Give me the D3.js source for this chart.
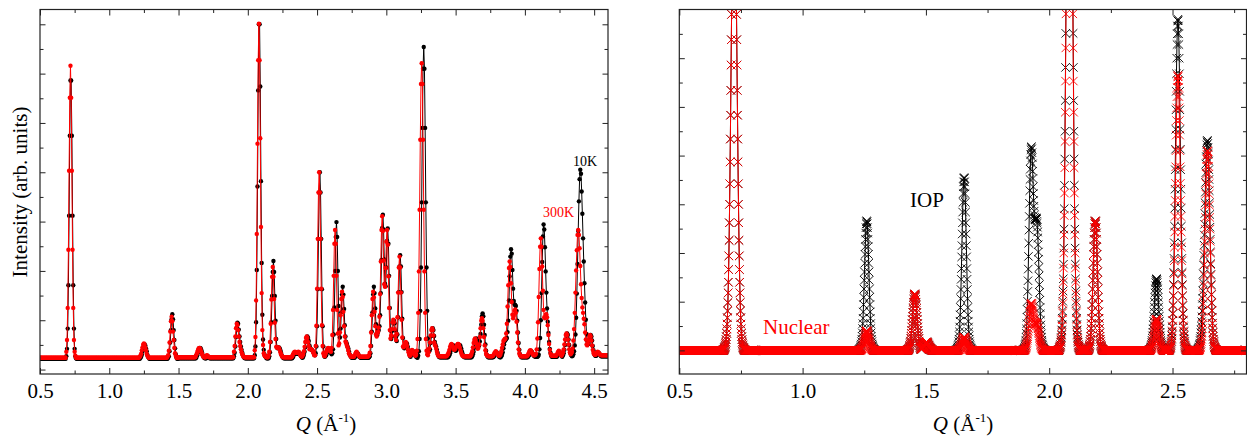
<!DOCTYPE html>
<html>
<head>
<meta charset="utf-8">
<script src="https://cdn.jsdelivr.net/npm/d3@7"></script>
<style>
  body { margin: 0; background: #fff; }
  svg text { font-family: "Liberation Serif", "Times New Roman", serif; fill: #000; }
</style>
</head>
<body>
<svg id="chart" width="1247" height="440"></svg>
<script>
// ---------- Q grids (Å^-1) ----------
const scanStart = 0.5;
const rowSpan = 0.1;          // each data row covers 0.1 Å^-1
const measuredStep = 0.005;   // 20 points per row
const calcStep = 0.001;       // 100 points per row

// ---------- Measured patterns (arb. units x100) ----------
const counts10K = [
  [22,22,22,22,22,22,22,22,22,22, 22,22,22,22,22,22,22,22,22,22],
  [22,22,22,22,22,22,22,22,22,22, 22,22,22,22,22,22,22,22,27,42],
  [83,171,312,474,586,586,474,312,171,83, 42,27,23,22,22,22,22,22,22,22],
  [22,22,22,22,22,22,22,22,22,22, 22,22,22,22,22,22,22,22,22,22],
  [22,22,22,22,22,22,22,22,22,22, 22,22,22,22,22,22,22,22,22,22],
  [22,22,22,22,22,22,22,22,22,22, 22,22,22,22,22,22,22,22,22,22],
  [22,22,22,22,22,22,22,22,22,22, 22,22,22,22,22,22,22,22,22,22],
  [22,22,22,22,22,24,26,30,37,43, 49,51,49,43,37,30,26,24,22,22],
  [22,22,22,22,22,22,22,22,22,22, 22,22,22,22,22,22,22,22,22,22],
  [22,22,22,22,22,24,27,37,55,80, 102,112,102,80,60,43,31,25,22,22],
  [23,23,23,23,23,23,23,23,23,23, 23,23,23,23,23,23,23,23,23,23],
  [23,23,23,23,23,23,26,29,34,39, 43,44,43,39,34,29,26,24,23,23],
  [23,26,27,26,24,23,23,23,23,23, 23,23,23,23,23,23,23,23,23,23],
  [23,23,23,23,23,23,23,23,23,23, 23,23,23,23,23,23,23,23,23,23],
  [27,34,47,66,85,95,93,81,67,56, 47,40,34,29,26,24,23,23,23,23],
  [23,23,23,23,23,23,23,23,23,23, 29,47,96,202,371,566,700,700,574,382],
  [216,111,61,40,31,27,25,23,23,23, 23,27,35,56,96,149,198,220,198,149],
  [99,62,46,43,44,45,43,39,34,29, 26,24,23,23,23,23,23,23,23,23],
  [23,23,23,23,23,25,28,31,33,34, 33,32,32,33,34,33,30,27,25,24],
  [26,30,36,45,56,64,67,64,58,49, 44,41,40,39,37,34,30,29,33,47],
  [88,163,265,359,400,359,265,163,88,47, 32,26,27,29,33,37,41,42,41,37],
  [34,31,33,41,71,126,200,269,299,269, 200,129,80,65,83,116,152,168,152,123],
  [90,67,56,52,47,43,37,31,28,26, 24,24,24,24,24,26,29,32,34,32],
  [29,26,25,24,24,24,24,24,24,24, 24,24,24,24,24,25,27,33,48,77],
  [116,152,168,155,124,92,73,70,76,80, 88,110,155,222,287,314,284,223,174,169],
  [207,261,286,255,190,125,79,62,67,79, 94,99,94,79,66,58,71,106,157,209],
  [232,209,157,103,64,45,43,46,52,54, 52,46,39,33,28,26,30,35,38,36],
  [33,30,28,26,25,24,28,37,62,119, 207,339,490,610,654,610,490,339,207,119],
  [63,41,37,41,54,68,80,84,80,68, 56,50,46,40,34,29,26,25,25,25],
  [25,25,25,25,25,25,25,25,25,25, 27,29,33,38,44,48,50,48,44,40],
  [38,39,42,45,48,50,50,48,43,37, 32,28,26,25,25,25,25,25,25,25],
  [25,25,25,25,27,31,36,44,53,60, 63,60,55,49,49,57,72,91,108,114],
  [108,91,70,51,38,30,27,25,25,25, 25,25,25,25,25,26,28,31,33,35],
  [33,31,28,26,25,25,27,30,35,43, 51,58,60,62,64,76,99,140,189,229],
  [244,235,202,164,139,132,131,129,119,99, 75,54,40,31,27,25,25,25,25,25],
  [25,25,25,25,25,27,29,33,36,37, 36,33,30,28,27,26,26,26,26,27],
  [30,41,64,100,155,218,270,294,284,248, 199,156,124,97,74,56,42,34,28,26],
  [26,26,26,26,26,26,26,28,31,34, 36,34,31,28,26,29,33,40,50,61],
  [70,73,70,61,50,40,33,29,27,28, 31,37,49,71,105,154,214,281,341,386],
  [405,397,361,316,266,219,175,136,101,72, 58,52,52,59,67,70,67,59,48,39],
  [33,29,28,28,30,32,34,33,31,29, 27,27,27,27,27,27,27,27,27,27],
  [27]
];

const counts300K = [
  [24,24,24,24,24,24,24,24,24,24, 24,24,24,24,24,24,24,24,24,24],
  [24,24,24,24,24,24,24,24,24,24, 24,24,24,24,24,24,24,24,36,60],
  [125,243,403,551,616,551,403,243,125,60, 36,28,24,24,24,24,24,24,24,24],
  [24,24,24,24,24,24,24,24,24,24, 24,24,24,24,24,24,24,24,24,24],
  [24,24,24,24,24,24,24,24,24,24, 24,24,24,24,24,24,24,24,24,24],
  [24,24,24,24,24,24,24,24,24,24, 24,24,24,24,24,24,24,24,24,24],
  [24,24,24,24,24,24,24,24,24,24, 24,24,24,24,24,24,24,24,24,24],
  [24,24,24,24,26,28,32,39,45,51, 53,51,45,39,32,28,26,24,24,24],
  [24,24,24,24,24,24,24,24,24,24, 24,24,24,24,24,24,24,24,24,24],
  [24,24,24,24,26,29,38,55,77,98, 107,98,77,60,44,33,28,24,24,24],
  [25,25,25,25,25,25,25,25,25,25, 25,25,25,25,25,25,25,25,25,25],
  [25,25,25,25,25,28,31,35,39,43, 44,43,39,35,31,28,26,25,25,25],
  [28,29,28,26,25,25,25,25,25,25, 25,25,25,25,25,25,25,25,25,25],
  [25,25,25,25,25,25,25,25,25,25, 25,25,25,25,25,25,25,25,25,25],
  [36,48,67,84,93,90,80,67,56,48, 41,35,31,28,26,25,25,25,25,25],
  [25,25,25,25,25,25,25,25,25,25, 39,66,140,275,458,627,701,627,469,289],
  [155,80,50,33,29,27,26,25,25,25, 29,36,56,93,142,188,208,188,143,95],
  [62,46,44,45,45,44,40,35,31,28, 26,25,25,25,25,25,25,25,25,25],
  [25,25,25,25,27,30,33,35,36,35, 34,34,35,36,35,32,29,27,26,28],
  [31,37,46,56,64,67,64,56,48,41, 42,42,41,39,36,33,29,29,48,89],
  [164,265,359,400,359,265,164,90,48,33, 28,27,31,35,39,43,44,43,39,37],
  [36,44,70,121,190,255,283,255,190,121, 73,49,53,75,110,143,158,147,117,88],
  [67,57,54,49,45,39,33,30,28,26, 26,26,26,26,28,31,34,36,34,31],
  [29,27,26,26,26,26,26,26,26,26, 26,26,26,26,27,29,34,48,75,110],
  [143,158,146,117,88,71,67,73,77,85, 107,153,219,283,311,281,221,173,168,206],
  [259,283,253,189,125,80,63,69,82,96, 101,96,82,68,60,72,106,156,207,229],
  [207,156,101,65,47,45,49,54,56,54, 48,41,35,30,28,30,36,40,38,35],
  [32,30,28,30,38,62,115,199,324,466, 579,621,579,466,324,199,115,62,38,31],
  [29,35,43,55,69,80,84,80,69,55, 50,48,42,36,31,28,27,27,27,27],
  [27,27,27,27,27,27,27,27,29,31, 35,40,46,50,52,50,46,42,40,41],
  [44,47,50,52,52,50,45,39,34,30, 28,27,27,27,27,27,27,27,27,27],
  [27,27,29,32,37,45,54,60,63,60, 54,47,42,44,51,66,84,99,104,99],
  [84,66,49,39,32,29,28,27,27,27, 27,27,27,27,28,30,33,35,37,35],
  [33,31,29,28,29,32,37,44,51,58, 60,62,63,73,93,128,171,206,219,208],
  [175,137,111,104,109,119,122,115,97,75, 55,41,33,29,27,27,27,27,27,27],
  [27,27,27,27,29,31,35,38,39,38, 35,32,30,29,29,30,32,41,63,96],
  [147,204,249,266,249,209,160,121,106,104, 111,112,106,90,70,52,40,32,29,28],
  [28,28,28,28,28,28,30,33,36,38, 36,33,30,28,31,35,41,51,61,70],
  [73,70,61,51,41,35,31,33,36,43, 59,82,115,156,201,242,273,283,273,246],
  [210,173,145,126,115,103,92,75,61,51, 49,53,59,67,70,67,59,49,40,34],
  [31,30,30,32,34,36,35,33,31,30, 29,29,29,29,29,29,29,29,29,29],
  [29]
];

// ---------- Calculated patterns (arb. units x100) ----------
const calcIOP = [
  [0,0,0,0,0,0,0,0,0,0, 0,0,0,0,0,0,0,0,0,0, 0,0,0,0,0,0,0,0,0,0, 0,0,0,0,0,0,0,0,0,0, 0,0,0,0,0,0,0,0,0,0, 0,0,0,0,0,0,0,0,0,0, 0,0,0,0,0,0,0,0,0,0, 0,0,0,0,0,0,0,0,0,0, 0,0,0,0,0,0,0,0,0,0, 0,0,0,0,0,0,0,0,0,0],
  [0,0,0,0,0,0,0,0,0,0, 0,0,0,0,0,0,0,0,0,0, 0,0,0,0,0,0,0,0,0,0, 0,0,0,0,0,0,0,0,0,0, 0,0,0,0,0,0,0,0,0,0, 0,0,0,0,0,0,0,0,0,0, 0,0,0,0,0,0,0,0,0,0, 0,0,0,0,0,0,0,0,0,1, 1,2,3,4,5,6,8,11,14,17, 22,28,35,44,54,67,81,98,118,140],
  [166,194,226,262,300,342,387,434,483,534, 586,638,690,740,788,834,875,911,942,967, 985,996,1000,996,985,967,942,911,875,834, 788,740,690,638,586,534,483,434,387,342, 300,262,226,194,166,140,118,98,81,67, 54,44,35,28,22,17,14,11,8,6, 5,4,3,2,1,1,0,0,0,0, 0,0,0,0,0,0,0,0,0,0, 0,0,0,0,0,0,0,0,0,0, 0,0,0,0,0,0,0,0,0,0],
  [0,0,0,0,0,0,0,0,0,0, 0,0,0,0,0,0,0,0,0,0, 0,0,0,0,0,0,0,0,0,0, 0,0,0,0,0,0,0,0,0,0, 0,0,0,0,0,0,0,0,0,0, 0,0,0,0,0,0,0,0,0,0, 0,0,0,0,0,0,0,0,0,0, 0,0,0,0,0,0,0,0,0,0, 0,0,0,0,0,0,0,0,0,0, 0,0,0,0,0,0,0,0,0,0],
  [0,0,0,0,0,0,0,0,0,0, 0,0,0,0,0,0,0,0,0,0, 0,0,0,0,0,0,0,0,0,0, 0,0,0,0,0,0,0,0,0,0, 0,0,0,0,0,0,0,0,0,0, 0,0,0,0,0,0,0,0,0,0, 0,0,0,0,0,0,0,0,0,0, 0,0,0,0,0,0,0,0,0,0, 0,0,0,0,0,0,0,0,0,0, 0,0,0,0,0,0,0,0,0,0],
  [0,0,0,0,0,0,0,0,0,0, 0,0,0,0,0,0,0,0,0,0, 0,0,0,0,0,0,0,0,0,0, 0,0,0,0,0,0,0,0,0,0, 0,0,0,0,0,0,0,0,0,0, 0,0,0,0,0,0,0,0,0,0, 0,0,0,0,0,0,0,0,0,0, 0,0,0,0,0,0,0,0,0,0, 0,0,0,0,0,0,0,0,0,0, 0,0,0,0,0,0,0,0,0,0],
  [0,0,0,0,0,0,0,0,0,0, 0,0,0,0,0,0,0,0,0,0, 0,0,0,0,0,0,0,0,0,0, 0,0,0,0,0,0,0,0,0,0, 0,0,0,0,0,0,0,0,0,0, 0,0,0,0,0,0,0,0,0,0, 0,0,0,0,0,0,0,0,0,0, 0,0,0,0,0,0,0,0,0,0, 0,0,0,0,0,0,0,0,0,0, 0,0,0,0,0,0,0,0,0,0],
  [0,0,0,0,0,0,0,0,0,0, 0,0,0,0,0,0,0,0,0,0, 0,0,0,0,0,0,0,0,0,1, 1,2,2,3,4,6,8,10,13,18, 23,29,36,45,55,66,79,94,109,126, 144,161,179,197,213,228,241,252,260,264, 266,264,260,252,241,228,213,197,179,161, 144,126,109,94,79,66,55,45,36,29, 23,18,13,10,8,6,4,3,2,2, 1,1,0,0,0,0,0,0,0,0],
  [0,0,0,0,0,0,0,0,0,0, 0,0,0,0,0,0,0,0,0,0, 0,0,0,0,0,0,0,0,0,0, 0,0,0,0,0,0,0,0,0,0, 0,0,0,0,0,0,0,0,0,0, 0,0,0,0,0,0,0,0,0,0, 0,0,0,0,0,0,0,0,0,0, 0,0,0,0,0,0,0,0,0,0, 0,0,0,0,0,0,0,0,0,0, 0,0,0,0,0,0,0,0,0,0],
  [0,0,0,0,0,0,0,0,0,0, 0,0,0,0,0,0,0,0,0,0, 0,0,0,0,0,0,1,1,1,2, 2,3,4,6,8,10,13,16,19,24, 29,35,41,48,55,63,70,78,86,93, 99,105,110,113,115,116,115,113,110,105, 99,93,86,78,70,63,55,48,41,35, 29,24,19,16,13,10,8,6,4,3, 3,3,2,3,3,3,4,4,5,6, 7,8,9,10,11,13,14,15,15,16],
  [17,17,17,17,17,16,15,15,14,13, 11,10,9,8,7,6,5,4,4,3, 2,2,1,1,1,0,0,0,0,0, 0,0,0,0,0,0,0,0,0,0, 0,0,0,0,0,0,0,0,0,0, 0,0,0,0,0,0,0,0,0,0, 0,0,0,0,0,0,0,0,0,0, 0,0,0,0,0,0,0,0,0,0, 0,0,0,0,0,0,0,0,0,0, 0,0,0,0,0,0,0,0,0,0],
  [0,0,0,0,0,0,0,0,0,0, 0,0,0,0,0,0,0,0,0,0, 0,0,0,0,1,1,2,3,4,5, 7,10,13,18,23,30,38,48,60,73, 88,106,125,146,168,192,215,239,262,284, 304,322,336,346,353,355,353,346,336,322, 304,284,262,239,215,192,168,146,125,106, 88,73,60,48,38,30,23,18,13,10, 7,5,4,3,2,1,1,0,0,0, 0,0,0,0,0,0,0,0,0,0],
  [0,0,0,0,0,0,0,0,0,0, 0,0,0,0,0,0,0,0,0,0, 0,0,0,0,0,0,0,0,0,0, 0,0,0,0,0,0,0,0,0,0, 0,0,0,0,0,0,0,0,0,0, 0,0,0,0,0,0,0,0,0,0, 0,0,0,0,0,0,0,0,0,0, 0,0,0,0,0,0,0,0,0,0, 0,0,0,0,0,0,0,0,0,0, 0,0,0,0,0,0,0,0,0,0],
  [0,0,0,0,0,0,0,0,0,0, 0,0,0,0,0,0,0,0,0,0, 0,0,0,0,0,0,0,0,0,0, 0,0,0,0,0,0,0,0,0,0, 0,0,0,0,0,0,0,0,0,0, 0,0,0,0,0,0,0,0,0,0, 0,0,0,0,0,0,0,0,0,0, 0,0,0,0,0,0,0,0,0,0, 0,0,0,0,0,0,0,0,0,0, 0,0,0,0,0,1,1,2,2,3],
  [4,6,9,12,15,20,27,35,44,55, 68,84,101,121,143,167,193,220,247,275, 302,328,351,372,389,402,412,417,418,414, 406,396,383,368,353,336,322,308,296,286, 278,273,270,269,268,269,271,272,271,269, 265,261,253,243,231,217,202,187,170,153, 135,119,103,88,75,62,52,42,34,27, 21,17,13,10,7,5,4,3,2,2, 1,1,0,0,0,0,0,0,0,0, 0,0,0,0,0,0,0,0,0,0],
  [0,0,0,0,0,0,0,0,0,0, 0,0,0,0,0,0,0,0,0,0, 0,0,0,0,0,0,0,0,0,0, 0,0,0,0,0,0,0,0,1,2, 2,3,5,6,8,9,12,17,21,26, 33,42,53,66,81,101,122,147,177,210, 249,291,339,393,450,513,581,651,725,801, 879,957,1035,1110,1182,1251,1313,1367,1413,1451, 1478,1494,1500,1494,1478,1451,1413,1367,1313,1251, 1182,1110,1035,957,879,801,725,651,581,513],
  [450,393,339,291,249,210,177,147,122,101, 81,66,53,42,33,26,21,17,12,9, 8,6,5,3,2,2,1,0,0,0, 0,0,0,0,0,0,0,0,0,0, 0,0,0,0,0,0,0,0,0,0, 0,0,0,0,0,0,1,1,2,2, 3,4,6,8,10,13,18,23,29,36, 45,55,66,79,94,109,126,144,161,179, 197,213,228,241,252,260,264,266,264,260, 252,241,228,213,197,179,161,144,126,109],
  [94,79,66,55,45,36,29,23,18,13, 10,8,6,4,3,2,2,1,1,0, 0,0,0,0,0,0,0,0,0,0, 0,0,0,0,0,0,0,0,0,0, 0,0,0,0,0,0,0,0,0,0, 0,0,0,0,0,0,0,0,0,0, 0,0,0,0,0,0,0,0,0,0, 0,0,0,0,0,0,0,0,0,0, 0,0,0,0,0,0,0,0,0,0, 0,0,0,0,0,0,0,0,0,0],
  [0,0,0,0,0,0,0,0,0,0, 0,0,0,0,0,0,0,0,0,0, 0,0,0,0,0,0,0,0,0,0, 0,0,0,0,0,0,0,0,0,0, 0,0,0,0,0,0,0,0,0,0, 0,0,0,0,0,0,0,0,0,0, 0,0,0,0,0,0,0,0,0,0, 0,0,0,0,0,0,0,0,0,0, 0,0,0,0,0,0,0,0,0,0, 0,0,0,0,0,0,0,0,0,0],
  [0,0,0,0,0,0,1,1,2,2, 3,4,6,7,10,12,16,20,25,30, 37,44,52,60,70,79,89,99,109,118, 126,133,139,143,146,147,146,143,139,133, 126,118,109,99,89,79,70,60,52,44, 37,30,25,20,16,12,10,7,6,4, 3,2,2,1,1,0,0,0,0,0, 0,0,0,0,0,0,0,0,0,0, 0,0,0,0,0,0,1,1,2,3, 4,5,7,10,14,18,23,30,38,48],
  [61,75,92,112,135,160,189,221,255,292, 331,371,413,454,494,532,568,600,628,650, 666,677,680,677,666,650,628,600,568,532, 494,454,413,371,331,292,255,221,189,160, 135,112,92,75,61,48,38,30,23,18, 14,10,7,5,4,3,2,1,1,0, 0,0,0,0,0,0,0,0,0,0, 0,0,0,0,0,0,0,0,0,0, 0,0,0,0,0,0,0,0,0,0, 0,0,0,0,0,0,0,0,0,0],
  [0,1,1,2,2,3,4,6,7,10, 12,15,20,24,29,36,42,50,59,69, 81,94,107,122,139,157,175,195,216,237, 259,281,303,325,345,365,383,398,411,422, 428,431,430,425,417,405,389,371,351,328, 303,279,253,228,202,178,156,135,115,98, 82,68,56,46,37,29,23,18,14,11, 8,6,5,3,2,2,1,1,0,0, 0,0,0,0,0,0,0,0,0,0, 0,0,0,0,0,0,0,0,0,0],
  [0,0,0,0,0,0,0,0,0,0, 0,0,0,0,0,0,0,0,0,0, 0,0,0,0,0,0,0,0,0,0, 0,0,0,0,0,0,0,0,0,0, 0,0,0,0,0,0,0,0,0,0, 0,0,0,0,0,0,0,0,0,0, 0,0,0,0,0,0,0,0,0,0, 0,0,0,0,0,0,0,0,0,0, 0,0,0,0,0,0,0,0,0,0, 0,0,0,0,0,0,0,0,0,0],
  [0]
];

const calcNuclear = [
  [0,0,0,0,0,0,0,0,0,0, 0,0,0,0,0,0,0,0,0,0, 0,0,0,0,0,0,0,0,0,0, 0,0,0,0,0,0,0,0,0,0, 0,0,0,0,0,0,0,0,0,0, 0,0,0,0,0,0,0,0,0,0, 0,0,0,0,0,0,0,0,0,0, 0,0,0,0,0,0,0,0,0,0, 0,0,0,0,0,0,0,0,0,0, 0,0,0,0,0,0,0,0,0,0],
  [0,0,0,0,0,0,0,0,0,0, 0,0,0,0,0,0,0,0,0,0, 0,0,0,0,0,0,0,0,0,0, 0,0,0,0,0,0,0,0,0,0, 0,0,0,0,0,0,0,0,0,0, 0,0,0,0,0,0,0,0,0,0, 0,0,0,0,0,0,0,0,0,0, 0,0,0,0,0,0,0,0,0,1, 1,2,3,4,5,6,8,11,14,17, 22,28,35,44,54,67,81,98,118,140],
  [166,194,226,262,300,342,387,434,483,534, 586,638,690,740,788,834,875,911,942,967, 985,996,1000,996,985,967,942,911,875,834, 788,740,690,638,586,534,483,434,387,342, 300,262,226,194,166,140,118,98,81,67, 54,44,35,28,22,17,14,11,8,6, 5,4,3,2,1,1,0,0,0,0, 0,0,0,0,0,0,0,0,0,0, 0,0,0,0,0,0,0,0,0,0, 0,0,0,0,0,0,0,0,0,0],
  [0,0,0,0,0,0,0,0,0,0, 0,0,0,0,0,0,0,0,0,0, 0,0,0,0,0,0,0,0,0,0, 0,0,0,0,0,0,0,0,0,0, 0,0,0,0,0,0,0,0,0,0, 0,0,0,0,0,0,0,0,0,0, 0,0,0,0,0,0,0,0,0,0, 0,0,0,0,0,0,0,0,0,0, 0,0,0,0,0,0,0,0,0,0, 0,0,0,0,0,0,0,0,0,0],
  [0,0,0,0,0,0,0,0,0,0, 0,0,0,0,0,0,0,0,0,0, 0,0,0,0,0,0,0,0,0,0, 0,0,0,0,0,0,0,0,0,0, 0,0,0,0,0,0,0,0,0,0, 0,0,0,0,0,0,0,0,0,0, 0,0,0,0,0,0,0,0,0,0, 0,0,0,0,0,0,0,0,0,0, 0,0,0,0,0,0,0,0,0,0, 0,0,0,0,0,0,0,0,0,0],
  [0,0,0,0,0,0,0,0,0,0, 0,0,0,0,0,0,0,0,0,0, 0,0,0,0,0,0,0,0,0,0, 0,0,0,0,0,0,0,0,0,0, 0,0,0,0,0,0,0,0,0,0, 0,0,0,0,0,0,0,0,0,0, 0,0,0,0,0,0,0,0,0,0, 0,0,0,0,0,0,0,0,0,0, 0,0,0,0,0,0,0,0,0,0, 0,0,0,0,0,0,0,0,0,0],
  [0,0,0,0,0,0,0,0,0,0, 0,0,0,0,0,0,0,0,0,0, 0,0,0,0,0,0,0,0,0,0, 0,0,0,0,0,0,0,0,0,0, 0,0,0,0,0,0,0,0,0,0, 0,0,0,0,0,0,0,0,0,0, 0,0,0,0,0,0,0,0,0,0, 0,0,0,0,0,0,0,0,0,0, 0,0,0,0,0,0,0,0,0,0, 0,0,0,0,0,0,0,0,0,0],
  [0,0,0,0,0,0,0,0,0,0, 0,0,0,0,0,0,0,0,0,0, 0,0,0,0,0,0,0,0,0,0, 0,0,0,0,1,1,1,2,2,3, 3,4,5,7,8,10,12,14,16,19, 22,24,27,30,32,34,36,38,39,40, 40,40,39,38,36,34,32,30,27,24, 22,19,16,14,12,10,8,7,5,4, 3,3,2,2,1,1,1,0,0,0, 0,0,0,0,0,0,0,0,0,0],
  [0,0,0,0,0,0,0,0,0,0, 0,0,0,0,0,0,0,0,0,0, 0,0,0,0,0,0,0,0,0,0, 0,0,0,0,0,0,0,0,0,0, 0,0,0,0,0,0,0,0,0,0, 0,0,0,0,0,0,0,0,0,0, 0,0,0,0,0,0,0,0,0,0, 0,0,0,0,0,0,0,0,0,0, 0,0,0,0,0,0,0,0,0,0, 0,0,0,0,0,0,0,0,0,0],
  [0,0,0,0,0,0,0,0,0,0, 0,0,0,0,0,0,0,0,0,0, 0,0,0,0,0,0,1,1,1,2, 2,3,4,6,8,10,13,16,19,24, 29,35,41,48,55,63,70,78,86,93, 99,105,110,113,115,116,115,113,110,105, 99,93,86,78,70,63,55,48,41,35, 29,24,19,16,13,10,8,6,4,3, 3,3,2,3,3,3,4,4,5,6, 7,8,9,10,11,13,14,15,15,16],
  [17,17,17,17,17,16,15,15,14,13, 11,10,9,8,7,6,5,4,4,3, 2,2,1,1,1,0,0,0,0,0, 0,0,0,0,0,0,0,0,0,0, 0,0,0,0,0,0,0,0,0,0, 0,0,0,0,0,0,0,0,0,0, 0,0,0,0,0,0,0,0,0,0, 0,0,0,0,0,0,0,0,0,0, 0,0,0,0,0,0,0,0,0,0, 0,0,0,0,0,0,0,0,0,0],
  [0,0,0,0,0,0,0,0,0,0, 0,0,0,0,0,0,0,0,0,0, 0,0,0,0,0,0,0,0,0,0, 0,1,1,1,2,2,3,4,5,6, 7,8,10,11,13,15,16,18,20,22, 23,24,26,26,27,27,27,26,26,24, 23,22,20,18,16,15,13,11,10,8, 7,6,5,4,3,2,2,1,1,1, 0,0,0,0,0,0,0,0,0,0, 0,0,0,0,0,0,0,0,0,0],
  [0,0,0,0,0,0,0,0,0,0, 0,0,0,0,0,0,0,0,0,0, 0,0,0,0,0,0,0,0,0,0, 0,0,0,0,0,0,0,0,0,0, 0,0,0,0,0,0,0,0,0,0, 0,0,0,0,0,0,0,0,0,0, 0,0,0,0,0,0,0,0,0,0, 0,0,0,0,0,0,0,0,0,0, 0,0,0,0,0,0,0,0,0,0, 0,0,0,0,0,0,0,0,0,0],
  [0,0,0,0,0,0,0,0,0,0, 0,0,0,0,0,0,0,0,0,0, 0,0,0,0,0,0,0,0,0,0, 0,0,0,0,0,0,0,0,0,0, 0,0,0,0,0,0,0,0,0,0, 0,0,0,0,0,0,0,0,0,0, 0,0,0,0,0,0,0,0,0,0, 0,0,0,0,0,0,0,0,0,0, 0,0,0,0,0,0,0,0,0,0, 0,0,0,0,0,0,0,0,0,1],
  [1,1,2,3,4,5,6,8,10,13, 16,20,24,28,33,39,45,51,58,64, 70,76,81,86,91,94,95,97,97,96, 94,91,88,84,80,76,73,69,66,63, 60,58,58,57,56,56,55,55,55,55, 54,53,51,48,46,44,40,37,34,30, 27,24,21,18,15,12,10,8,7,5, 4,3,3,2,1,1,1,0,0,0, 0,0,0,0,0,0,0,0,0,0, 0,0,0,0,0,0,0,0,0,0],
  [0,0,0,0,0,0,0,0,0,0, 0,0,0,0,0,0,0,0,0,0, 0,0,0,0,0,0,0,0,0,0, 0,0,0,0,0,0,0,0,1,1, 2,3,4,6,7,9,11,16,20,24, 31,40,50,63,77,96,116,140,169,200, 237,277,323,375,429,489,553,621,691,764, 838,912,987,1058,1127,1193,1251,1303,1347,1383, 1409,1424,1430,1424,1409,1383,1347,1303,1251,1193, 1127,1058,987,912,838,764,691,621,553,489],
  [429,375,323,277,237,200,169,140,116,96, 77,63,50,40,31,24,20,16,11,9, 7,6,4,3,2,1,1,0,0,0, 0,0,0,0,0,0,0,0,0,0, 0,0,0,0,0,0,0,0,0,0, 0,0,0,0,0,0,1,1,2,2, 3,4,6,8,10,13,18,23,29,36, 45,55,66,79,94,109,126,144,161,179, 197,213,228,241,252,260,264,266,264,260, 252,241,228,213,197,179,161,144,126,109],
  [94,79,66,55,45,36,29,23,18,13, 10,8,6,4,3,2,2,1,1,0, 0,0,0,0,0,0,0,0,0,0, 0,0,0,0,0,0,0,0,0,0, 0,0,0,0,0,0,0,0,0,0, 0,0,0,0,0,0,0,0,0,0, 0,0,0,0,0,0,0,0,0,0, 0,0,0,0,0,0,0,0,0,0, 0,0,0,0,0,0,0,0,0,0, 0,0,0,0,0,0,0,0,0,0],
  [0,0,0,0,0,0,0,0,0,0, 0,0,0,0,0,0,0,0,0,0, 0,0,0,0,0,0,0,0,0,0, 0,0,0,0,0,0,0,0,0,0, 0,0,0,0,0,0,0,0,0,0, 0,0,0,0,0,0,0,0,0,0, 0,0,0,0,0,0,0,0,0,0, 0,0,0,0,0,0,0,0,0,0, 0,0,0,0,0,0,0,0,0,0, 0,0,0,0,0,0,0,0,0,0],
  [0,0,0,0,0,0,0,0,1,1, 1,2,2,3,4,5,7,9,11,13, 16,19,23,26,30,35,39,43,47,51, 55,58,61,62,64,64,64,62,61,58, 55,51,47,43,39,35,30,26,23,19, 16,13,11,9,7,5,4,3,2,2, 1,1,1,0,0,0,0,0,0,0, 0,0,0,0,0,0,0,0,0,0, 0,0,0,0,0,0,1,1,2,2, 3,5,6,8,11,15,19,25,32,40],
  [50,62,76,93,112,133,157,184,212,243, 275,308,343,377,410,442,472,498,521,540, 554,562,565,562,554,540,521,498,472,442, 410,377,343,308,275,243,212,184,157,133, 112,93,76,62,50,40,32,25,19,15, 11,8,6,5,3,2,2,1,1,0, 0,0,0,0,0,0,0,0,0,0, 0,0,0,0,0,0,0,0,0,0, 0,0,0,0,0,0,0,0,0,0, 0,0,0,0,0,0,0,0,0,0],
  [0,0,0,0,0,0,0,1,1,2, 2,3,5,6,8,11,14,18,23,29, 36,45,55,67,81,97,114,133,154,176, 200,224,249,273,298,321,342,362,378,392, 402,408,410,408,402,392,378,362,342,321, 298,273,249,224,200,176,154,133,114,97, 81,67,55,45,36,29,23,18,14,11, 8,6,5,3,2,2,1,1,0,0, 0,0,0,0,0,0,0,0,0,0, 0,0,0,0,0,0,0,0,0,0],
  [0,0,0,0,0,0,0,0,0,0, 0,0,0,0,0,0,0,0,0,0, 0,0,0,0,0,0,0,0,0,0, 0,0,0,0,0,0,0,0,0,0, 0,0,0,0,0,0,0,0,0,0, 0,0,0,0,0,0,0,0,0,0, 0,0,0,0,0,0,0,0,0,0, 0,0,0,0,0,0,0,0,0,0, 0,0,0,0,0,0,0,0,0,0, 0,0,0,0,0,0,0,0,0,0],
  [0]
];

// ---------- Ticks ----------
const qTicksMeasured = [0.5, 1.0, 1.5, 2.0, 2.5, 3.0, 3.5, 4.0, 4.5];
const qMinorMeasured = [0.75, 1.25, 1.75, 2.25, 2.75, 3.25, 3.75, 4.25];
const qTicksCalc = [0.5, 1.0, 1.5, 2.0, 2.5];
const qMinorCalc = [0.75, 1.25, 1.75, 2.25, 2.75];
const yMajorMeasured = [0, 100, 200, 300, 400, 500, 600, 700];
const yMinorMeasured = [50, 150, 250, 350, 450, 550, 650];
const yMajorCalc = [0, 100, 200, 300, 400, 500, 600];
const yMinorCalc = [50, 150, 250, 350, 450, 550, 650];

const colorLow = "#000000";
const colorHigh = "#ff0000";
const axisColor = "#222";

// ---------- Helpers ----------
function toPoints(rows, step) {
  const pts = [];
  rows.forEach((row, r) => row.forEach((v, j) => {
    pts.push({ q: +(scanStart + r * rowSpan + j * step).toFixed(5), v });
  }));
  return pts;
}

const svg = d3.select("#chart");
const defs = svg.append("defs");

function drawFrame(x, y, xMajor, xMinor, yMajor, yMinor) {
  const [xl, xr] = x.range();
  const [yb, yt] = y.range();
  const g = svg.append("g");
  const strip = sel => sel.call(s => s.select(".domain").remove())
    .call(s => s.selectAll(".tick line").attr("stroke", axisColor).attr("stroke-width", 1));

  g.append("g").attr("transform", `translate(0,${yb})`)
    .call(d3.axisBottom(x).tickValues(xMajor).tickSize(-6).tickPadding(9).tickFormat(d3.format(".1f")))
    .call(strip)
    .call(s => s.selectAll("text").attr("font-size", 21)
      .attr("font-family", '"Liberation Serif","Times New Roman",serif').attr("fill", "#000"));
  g.append("g").attr("transform", `translate(0,${yb})`)
    .call(d3.axisBottom(x).tickValues(xMinor).tickSize(-3.5).tickFormat("")).call(strip);
  g.append("g").attr("transform", `translate(0,${yt})`)
    .call(d3.axisTop(x).tickValues(xMajor).tickSize(-6).tickFormat("")).call(strip);
  g.append("g").attr("transform", `translate(0,${yt})`)
    .call(d3.axisTop(x).tickValues(xMinor).tickSize(-3.5).tickFormat("")).call(strip);
  g.append("g").attr("transform", `translate(${xl},0)`)
    .call(d3.axisLeft(y).tickValues(yMajor).tickSize(-5.5).tickFormat("")).call(strip);
  g.append("g").attr("transform", `translate(${xl},0)`)
    .call(d3.axisLeft(y).tickValues(yMinor).tickSize(-3.5).tickFormat("")).call(strip);
  g.append("g").attr("transform", `translate(${xr},0)`)
    .call(d3.axisRight(y).tickValues(yMajor).tickSize(-5.5).tickFormat("")).call(strip);
  g.append("g").attr("transform", `translate(${xr},0)`)
    .call(d3.axisRight(y).tickValues(yMinor).tickSize(-3.5).tickFormat("")).call(strip);

  g.append("rect").attr("x", xl).attr("y", yt).attr("width", xr - xl).attr("height", yb - yt)
    .attr("fill", "none").attr("stroke", axisColor).attr("stroke-width", 1.2);
}

function plotLayer(x, y, id) {
  const [xl, xr] = x.range();
  const [yb, yt] = y.range();
  defs.append("clipPath").attr("id", id).append("rect")
    .attr("x", xl).attr("y", yt).attr("width", xr - xl).attr("height", yb - yt);
  return svg.append("g").attr("clip-path", `url(#${id})`);
}

function qTitle(cx) {
  const t = svg.append("text").attr("x", cx).attr("y", 431).attr("text-anchor", "middle").attr("font-size", 21);
  t.append("tspan").attr("font-style", "italic").text("Q");
  t.append("tspan").text(" (Å");
  t.append("tspan").attr("font-size", 13).attr("dy", -9).text("-1");
  t.append("tspan").attr("dy", 9).text(")");
}

// ---------- Left panel: measured patterns ----------
const xL = d3.scaleLinear().domain([0.5, 4.6]).range([40, 608]);
const yL = d3.scaleLinear().domain([-9, 730]).range([374, 9.5]);
const plotL = plotLayer(xL, yL, "clipL");

[[counts10K, colorLow], [counts300K, colorHigh]].forEach(([rows, color]) => {
  const pts = toPoints(rows, measuredStep);
  plotL.append("path").datum(pts)
    .attr("d", d3.line().x(d => xL(d.q)).y(d => yL(d.v)))
    .attr("fill", "none").attr("stroke", color).attr("stroke-width", 1);
  plotL.append("g").selectAll("circle").data(pts).join("circle")
    .attr("cx", d => xL(d.q)).attr("cy", d => yL(d.v)).attr("r", 2.2).attr("fill", color);
});
drawFrame(xL, yL, qTicksMeasured, qMinorMeasured, yMajorMeasured, yMinorMeasured);

svg.append("text").attr("transform", "translate(27,192) rotate(-90)")
  .attr("text-anchor", "middle").attr("font-size", 21).text("Intensity (arb. units)");
svg.append("text").attr("x", 573).attr("y", 166).attr("font-size", 14).text("10K");
svg.append("text").attr("x", 543).attr("y", 217).attr("font-size", 14)
  .style("fill", colorHigh).text("300K");
qTitle(326);

// ---------- Right panel: calculated patterns ----------
const xR = d3.scaleLinear().domain([0.5, 2.8]).range([679.3, 1246.5]);
const yR = d3.scaleLinear().domain([-48.5, 700]).range([374, 9.5]);
const plotR = plotLayer(xR, yR, "clipR");
const cross = "M-4.2,-4.2L4.2,4.2M4.2,-4.2L-4.2,4.2";

[[calcIOP, colorLow], [calcNuclear, colorHigh]].forEach(([rows, color]) => {
  const pts = toPoints(rows, calcStep);
  plotR.append("path").datum(pts)
    .attr("d", d3.line().x(d => xR(d.q)).y(d => yR(d.v)))
    .attr("fill", "none").attr("stroke", color).attr("stroke-width", 1);
  plotR.append("g").selectAll("path").data(pts).join("path")
    .attr("transform", d => `translate(${xR(d.q)},${yR(d.v)})`)
    .attr("d", cross).attr("fill", "none").attr("stroke", color).attr("stroke-width", 0.9);
});
drawFrame(xR, yR, qTicksCalc, qMinorCalc, yMajorCalc, yMinorCalc);

svg.append("text").attr("x", 910).attr("y", 207).attr("font-size", 21).text("IOP");
svg.append("text").attr("x", 763).attr("y", 334).attr("font-size", 21)
  .style("fill", colorHigh).text("Nuclear");
qTitle(963);
</script>
</body>
</html>
